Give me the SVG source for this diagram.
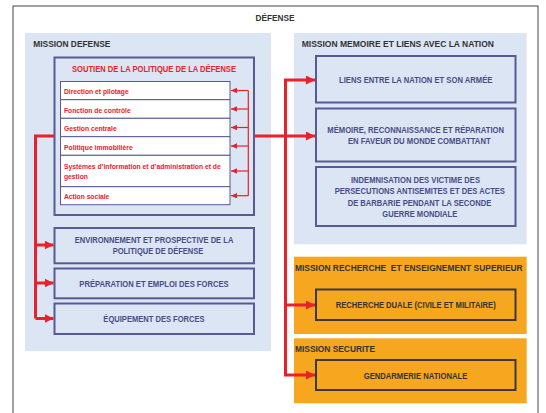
<svg xmlns="http://www.w3.org/2000/svg" width="546" height="413" viewBox="0 0 546 413">
<style>
text{font-family:"Liberation Sans",Arial,sans-serif;font-weight:bold}
.ttl{font-size:9px;fill:#333}
.sub{font-size:8.6px;fill:#4a4c86;text-anchor:middle}
.row{font-size:7.6px;fill:#e8212b}
.dk{font-size:8.6px;fill:#333;text-anchor:middle}
.panel{fill:#dbe5f3}
.orange{fill:#f6a71f}
.box{fill:#dbe5f3;stroke:#585a96;stroke-width:2}
.obox{fill:#f6a71f;stroke:#3a3a3a;stroke-width:2}
.cell{fill:#fff;stroke:#585a96;stroke-width:1}
.thick{fill:none;stroke:#e8212b;stroke-width:3}
.thin{fill:none;stroke:#e8212b;stroke-width:1.2}
</style>
<defs>
<marker id="big" markerUnits="userSpaceOnUse" markerWidth="10" markerHeight="10" refX="9" refY="4.5" orient="auto"><path d="M0,0 L9,4.5 L0,9 Z" fill="#e8212b"/></marker>
<marker id="small" markerUnits="userSpaceOnUse" markerWidth="7" markerHeight="6" refX="6" refY="2.75" orient="auto"><path d="M0,0 L6,2.75 L0,5.5 Z" fill="#e8212b"/></marker>
</defs>
<rect x="0" y="0" width="546" height="413" fill="#fff"/>
<rect x="13" y="6" width="525" height="420" fill="none" stroke="#444" stroke-width="1"/>
<text class="ttl" x="275" y="20.5" text-anchor="middle" textLength="39" lengthAdjust="spacingAndGlyphs">DÉFENSE</text>

<g id="mission-defense">
<rect class="panel" x="25" y="33" width="246" height="318"/>
<text class="ttl" x="33.3" y="47.3" textLength="77" lengthAdjust="spacingAndGlyphs">MISSION DEFENSE</text>
</g>
<g id="soutien">
<rect class="box" x="54.5" y="57.5" width="199.5" height="157.5"/>
<text x="154" y="72" font-size="9" fill="#e8212b" text-anchor="middle" textLength="164" lengthAdjust="spacingAndGlyphs">SOUTIEN DE LA POLITIQUE DE LA DÉFENSE</text>
</g>
<g id="direction">
<rect class="cell" x="60.5" y="81.5" width="169.5" height="18.2"/>
<text class="row" x="64" y="93.8" textLength="64.7" lengthAdjust="spacingAndGlyphs">Direction et pilotage</text>
</g>
<g id="controle">
<rect class="cell" x="60.5" y="99.7" width="169.5" height="18.6"/>
<text class="row" x="64" y="112.8" textLength="66.7" lengthAdjust="spacingAndGlyphs">Fonction de contrôle</text>
</g>
<g id="gestion-centrale">
<rect class="cell" x="60.5" y="118.3" width="169.5" height="18.4"/>
<text class="row" x="64" y="130.8" textLength="52.7" lengthAdjust="spacingAndGlyphs">Gestion centrale</text>
</g>
<g id="immobiliere">
<rect class="cell" x="60.5" y="136.7" width="169.5" height="18.6"/>
<text class="row" x="64" y="149.5" textLength="68.7" lengthAdjust="spacingAndGlyphs">Politique immobilière</text>
</g>
<g id="systemes">
<rect class="cell" x="60.5" y="155.3" width="169.5" height="31.4"/>
<text class="row" x="64" y="168.8" textLength="156.7" lengthAdjust="spacingAndGlyphs">Systèmes d’information et d’administration et de</text>
<text class="row" x="64" y="179.3" textLength="24" lengthAdjust="spacingAndGlyphs">gestion</text>
</g>
<g id="action-sociale">
<rect class="cell" x="60.5" y="186.7" width="169.5" height="18"/>
<text class="row" x="64" y="198.8" textLength="45.3" lengthAdjust="spacingAndGlyphs">Action sociale</text>
</g>
<g id="environnement">
<rect class="box" x="54.5" y="228" width="199.5" height="35.3"/>
<text class="sub" x="154" y="243.3" textLength="158.7" lengthAdjust="spacingAndGlyphs">ENVIRONNEMENT ET PROSPECTIVE DE LA</text>
<text class="sub" x="158" y="254.3" textLength="90.7" lengthAdjust="spacingAndGlyphs">POLITIQUE DE DÉFENSE</text>
</g>
<g id="preparation">
<rect class="box" x="54.5" y="268.5" width="199.5" height="29.8"/>
<text class="sub" x="154" y="286.5" textLength="149.3" lengthAdjust="spacingAndGlyphs">PRÉPARATION ET EMPLOI DES FORCES</text>
</g>
<g id="equipement">
<rect class="box" x="54.5" y="303.5" width="199.5" height="30.5"/>
<text class="sub" x="154" y="321.8" textLength="101.3" lengthAdjust="spacingAndGlyphs">ÉQUIPEMENT DES FORCES</text>
</g>

<g id="mission-memoire">
<rect class="panel" x="294" y="33" width="232.7" height="211.3"/>
<text class="ttl" x="301.7" y="47.3" textLength="192.3" lengthAdjust="spacingAndGlyphs">MISSION MEMOIRE ET LIENS AVEC LA NATION</text>
</g>
<g id="liens">
<rect class="box" x="316" y="56" width="199.5" height="46.5"/>
<text class="sub" x="415.7" y="83.3" textLength="153.3" lengthAdjust="spacingAndGlyphs">LIENS ENTRE LA NATION ET SON ARMÉE</text>
</g>
<g id="memoire">
<rect class="box" x="316" y="108.5" width="199.5" height="53"/>
<text class="sub" x="415.7" y="132.5" textLength="176.7" lengthAdjust="spacingAndGlyphs">MÉMOIRE, RECONNAISSANCE ET RÉPARATION</text>
<text class="sub" x="419.3" y="143.5" textLength="142.7" lengthAdjust="spacingAndGlyphs">EN FAVEUR DU MONDE COMBATTANT</text>
</g>
<g id="indemnisation">
<rect class="box" x="316" y="167" width="199.5" height="59"/>
<text class="sub" x="415.5" y="183.3" textLength="129" lengthAdjust="spacingAndGlyphs">INDEMNISATION DES VICTIME DES</text>
<text class="sub" x="419.8" y="194.3" textLength="170.3" lengthAdjust="spacingAndGlyphs">PERSECUTIONS ANTISEMITES ET DES ACTES</text>
<text class="sub" x="419.5" y="205.6" textLength="143.7" lengthAdjust="spacingAndGlyphs">DE BARBARIE PENDANT LA SECONDE</text>
<text class="sub" x="419.8" y="217.3" textLength="75" lengthAdjust="spacingAndGlyphs">GUERRE MONDIALE</text>
</g>

<g id="mission-recherche">
<rect class="orange" x="294" y="256.7" width="232.7" height="77.3"/>
<text class="ttl" x="295" y="271" textLength="227.7" lengthAdjust="spacingAndGlyphs" style="white-space:pre" xml:space="preserve">MISSION RECHERCHE  ET ENSEIGNEMENT SUPERIEUR</text>
</g>
<g id="recherche-duale">
<rect class="obox" x="316" y="289.5" width="199.5" height="30.5"/>
<text class="dk" x="415.7" y="308.3" textLength="160" lengthAdjust="spacingAndGlyphs">RECHERCHE DUALE (CIVILE ET MILITAIRE)</text>
</g>
<g id="mission-securite">
<rect class="orange" x="294" y="338.3" width="232.7" height="65"/>
<text class="ttl" x="295" y="352.3" textLength="80" lengthAdjust="spacingAndGlyphs">MISSION SECURITE</text>
</g>
<g id="gendarmerie">
<rect class="obox" x="316" y="360" width="199.5" height="30"/>
<text class="dk" x="415.5" y="378.5" textLength="103.6" lengthAdjust="spacingAndGlyphs">GENDARMERIE NATIONALE</text>
</g>

<g id="connectors">
<path class="thin" d="M248.3,90.5 V195.7"/>
<path class="thin" d="M248.3,90.5 H231" marker-end="url(#small)"/>
<path class="thin" d="M248.3,109 H231" marker-end="url(#small)"/>
<path class="thin" d="M248.3,127.5 H231" marker-end="url(#small)"/>
<path class="thin" d="M248.3,146 H231" marker-end="url(#small)"/>
<path class="thin" d="M248.3,171 H231" marker-end="url(#small)"/>
<path class="thin" d="M248.3,195.7 H231" marker-end="url(#small)"/>
<path class="thick" d="M54,136 H35.5 V318.5"/>
<path class="thick" d="M35.5,245 H53.5" marker-end="url(#big)"/>
<path class="thick" d="M35.5,283 H53.5" marker-end="url(#big)"/>
<path class="thick" d="M35.5,318.5 H53.5" marker-end="url(#big)"/>
<path class="thick" d="M255,136 H285.5"/>
<path class="thick" d="M285.5,80 V375"/>
<path class="thick" d="M284,80 H315" marker-end="url(#big)"/>
<path class="thick" d="M284,136 H315" marker-end="url(#big)"/>
<path class="thick" d="M284,305 H315" marker-end="url(#big)"/>
<path class="thick" d="M284,375 H315" marker-end="url(#big)"/>
</g>
</svg>
